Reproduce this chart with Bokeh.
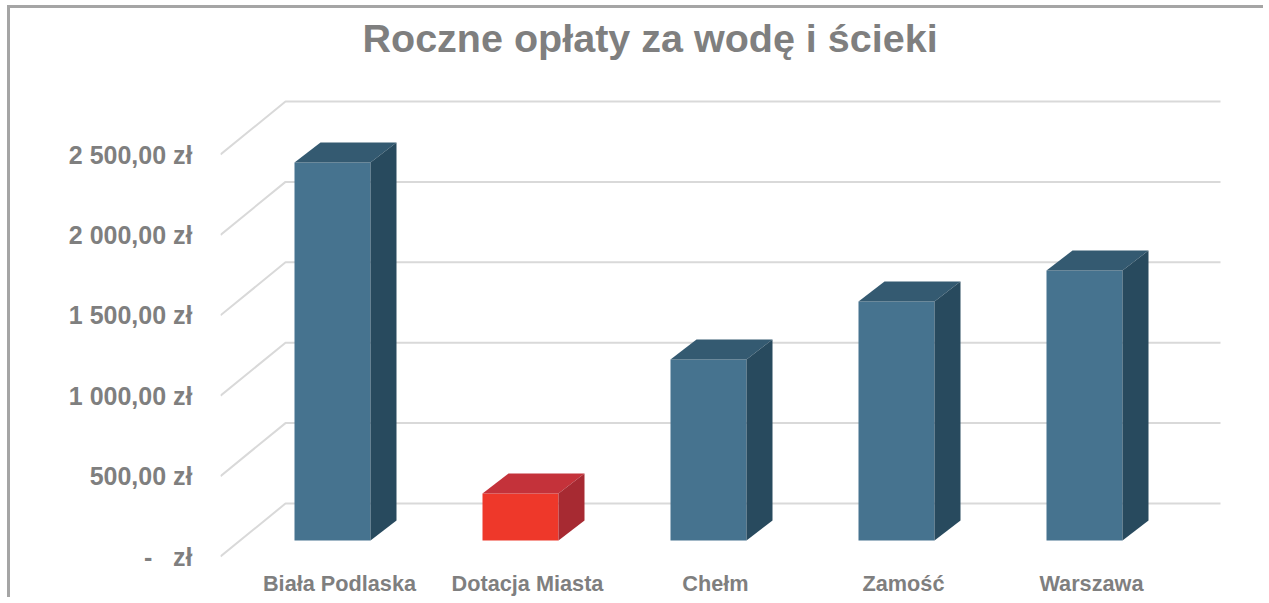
from bokeh.plotting import figure
from bokeh.models import Range1d, FixedTicker
from bokeh.embed import file_html
from bokeh.resources import INLINE

# ---------------- data ----------------
categories = ["Biała Podlaska", "Dotacja Miasta", "Chełm", "Zamość", "Warszawa"]
values = [2351, 292, 1126, 1486, 1679]
y_ticks = [0, 500, 1000, 1500, 2000, 2500]
y_tick_labels = ["-\u00a0\u00a0\u00a0zł", "500,00 zł", "1 000,00 zł", "1 500,00 zł",
                 "2 000,00 zł", "2 500,00 zł"]
title_text = "Roczne opłaty za wodę i ścieki"
highlight = "Dotacja Miasta"

# ---------------- layout / style ----------------
W, H = 1256, 592
ML, MR, MT, MB = 210, 44, 61, 40
FW, FH = W - ML - MR, H - MT - MB
PX_X = 188.0            # pixels per category
PX_Y = 80.4 / 500.0     # pixels per value unit
ZERO_Y = 548            # canvas y of front-plane zero
CAT0_X = 329            # canvas x of first category
y_lo = -((H - MB) - ZERO_Y) / PX_Y
y_hi = y_lo + FH / PX_Y
x_lo = (ML - CAT0_X) / PX_X
x_hi = x_lo + FW / PX_X

WALL_DX, WALL_DY = 65 / PX_X, 53 / PX_Y       # back wall offset
GRID_END = (1210 - CAT0_X) / PX_X
BAR_BASE = 16 / PX_Y                          # bar plane offset behind front
BAR_SHIFT = -7 / PX_X
BAR_W = 76 / PX_X
DEPTH_DX, DEPTH_DY = 26 / PX_X, 20 / PX_Y

TEXT = "#7f7f7f"
FONT = "Liberation Sans"
BLUE = ("#46738f", "#345a71", "#284a5e")
RED = ("#ee382a", "#c4323a", "#a72a32")

p = figure(width=W, height=H, output_backend="svg", toolbar_location=None,
           x_range=Range1d(x_lo, x_hi), y_range=Range1d(y_lo, y_hi),
           min_border_left=ML, min_border_right=MR, min_border_top=MT,
           min_border_bottom=MB)
p.outline_line_color = None
p.grid.visible = False
p.background_fill_color = "white"
p.border_fill_color = "white"
p.styles = {"margin-left": "7px", "margin-top": "5px",
            "border-top": "3px solid #a5a5a5", "border-left": "3px solid #a5a5a5"}

p.title.text = title_text
p.title.text_font = FONT
p.title.text_font_size = "39.5px"
p.title.text_font_style = "bold"
p.title.text_color = TEXT
p.title.align = "left"
p.title.vertical_align = "top"
p.title.offset = 142
p.title.standoff = 15

# gridlines on the back wall with diagonal side wall lines
xs, ys = [], []
for v in y_ticks:
    xs.append([x_lo, x_lo + WALL_DX, GRID_END])
    ys.append([v, v + WALL_DY, v + WALL_DY])
p.multi_line(xs, ys, line_color="#d9d9d9", line_width=2)

# 3D bars
front_x, front_y, top_x, top_y, side_x, side_y = [], [], [], [], [], []
fc, tc, sc = [], [], []
for i, (cat, val) in enumerate(zip(categories, values)):
    x0 = i + BAR_SHIFT - BAR_W / 2
    x1 = i + BAR_SHIFT + BAR_W / 2
    b = BAR_BASE
    t = BAR_BASE + val
    front_x.append([x0, x1, x1, x0]); front_y.append([b, b, t, t])
    top_x.append([x0, x1, x1 + DEPTH_DX, x0 + DEPTH_DX])
    top_y.append([t, t, t + DEPTH_DY, t + DEPTH_DY])
    side_x.append([x1, x1 + DEPTH_DX, x1 + DEPTH_DX, x1])
    side_y.append([b, b + DEPTH_DY, t + DEPTH_DY, t])
    col = RED if cat == highlight else BLUE
    fc.append(col[0]); tc.append(col[1]); sc.append(col[2])
p.patches(front_x, front_y, fill_color=fc, line_color=None)
p.patches(top_x, top_y, fill_color=tc, line_color=None)
p.patches(side_x, side_y, fill_color=sc, line_color=None)

# axes
xa = p.xaxis[0]
xa.ticker = FixedTicker(ticks=list(range(len(categories))))
xa.major_label_overrides = {i: c for i, c in enumerate(categories)}
ya = p.yaxis[0]
ya.ticker = FixedTicker(ticks=y_ticks)
ya.major_label_overrides = {v: l for v, l in zip(y_ticks, y_tick_labels)}
for ax, size, standoff in ((xa, "21.7px", 4), (ya, "25px", 22)):
    ax.axis_line_color = None
    ax.major_tick_line_color = None
    ax.minor_tick_line_color = None
    ax.major_label_text_font = FONT
    ax.major_label_text_font_size = size
    ax.major_label_text_font_style = "bold"
    ax.major_label_text_color = TEXT
    ax.major_label_standoff = standoff

open("out.html", "w").write(file_html(p, INLINE))
